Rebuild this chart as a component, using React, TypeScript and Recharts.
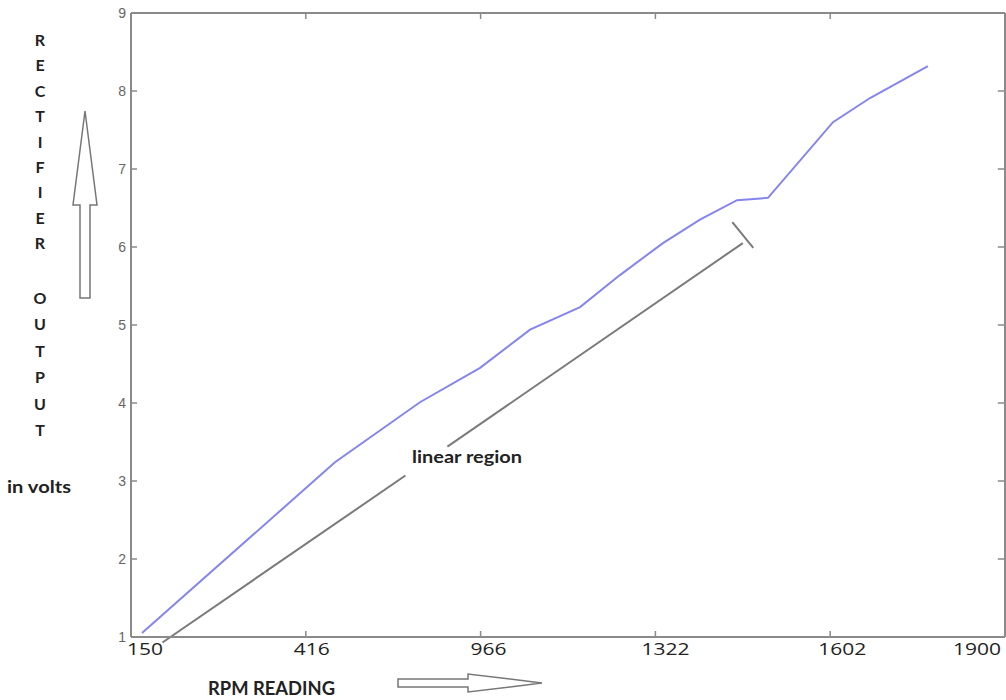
import React from 'react';
import { LineChart, Line, XAxis, YAxis, ReferenceLine } from 'recharts';

// x axis is evenly spaced tick positions, labelled with the RPM readings
const rpmTickLabels = ['150', '416', '966', '1322', '1602', '1900'];
const rpmTickPos = [0, 1, 2, 3, 4, 5];
const voltTicks = [1, 2, 3, 4, 5, 6, 7, 8, 9];

// measured rectifier output
const readingPos = [0.063, 1.167, 1.653, 1.997, 2.283, 2.569, 2.797, 3.043, 3.255, 3.467, 3.644, 4.016, 4.228, 4.559];
const rectifierVolts = [1.05, 3.24, 4.01, 4.45, 4.94, 5.23, 5.64, 6.05, 6.35, 6.6, 6.63, 7.6, 7.91, 8.32];

// "linear region" guide line (broken where the label sits) and its end bar
const linearX = [0.18, 1.57, 1.81, 3.5];
const linearY = [0.93, 3.07, 3.44, 6.05];
const endBarX = [3.44, 3.56];
const endBarY = [6.32, 5.99];

const yLetters1 = ['R', 'E', 'C', 'T', 'I', 'F', 'I', 'E', 'R'];
const yLetters2 = ['O', 'U', 'T', 'P', 'U', 'T'];

const chartData = readingPos.map((x, i) => ({ x, v: rectifierVolts[i] }));

const AXIS = '#8a8a8a';
const X_MIN = 0;
const X_MAX = 5;
const Y_MIN = 1;
const Y_MAX = 9;
// inward tick length, in data units (plot is ~875px x ~624px)
const TICK_DX = 6 / 175;
const TICK_DY = 6 / 78;

const RpmTick = (props: any) => {
  const { x, y, payload, index } = props;
  const label = rpmTickLabels[payload.value] ?? '';
  const last = rpmTickLabels.length - 1;
  let anchor: 'start' | 'middle' | 'end' = 'middle';
  let tx = x + 4 + 2 * index;
  if (index === 0) {
    anchor = 'start';
    tx = x - 4;
  } else if (index === last) {
    anchor = 'end';
    tx = x - 4;
  }
  return (
    <text
      x={tx}
      y={y}
      textAnchor={anchor}
      fontFamily="'Open Sans', sans-serif"
      fontSize={17}
      fill="#222"
      textLength={label.length * 12}
      lengthAdjust="spacingAndGlyphs"
    >
      {label}
    </text>
  );
};

export default function App() {
  return (
    <div style={{ position: 'absolute', left: 0, top: 0, width: 1006, height: 700, background: '#fff', fontFamily: 'Lato, sans-serif' }}>
      <LineChart width={1006} height={700} data={chartData} margin={{ top: 12, right: 0, bottom: 0, left: 0 }}>
        <XAxis
          xAxisId="b"
          type="number"
          dataKey="x"
          domain={[X_MIN, X_MAX]}
          ticks={rpmTickPos}
          height={63}
          tickSize={0}
          tickMargin={18}
          tick={<RpmTick />}
          interval={0}
          axisLine={{ stroke: AXIS, strokeWidth: 2 }}
          tickLine={false}
        />
        <XAxis
          xAxisId="t"
          orientation="top"
          type="number"
          dataKey="x"
          domain={[X_MIN, X_MAX]}
          ticks={rpmTickPos}
          height={1}
          tick={false}
          axisLine={{ stroke: AXIS, strokeWidth: 2 }}
          tickLine={false}
        />
        <YAxis
          yAxisId="l"
          type="number"
          domain={[Y_MIN, Y_MAX]}
          ticks={voltTicks}
          width={131}
          tickSize={0}
          tickMargin={5}
          interval={0}
          tick={{ fill: '#666', fontSize: 14, fontFamily: "'Liberation Sans', Arial, sans-serif" }}
          axisLine={{ stroke: AXIS, strokeWidth: 2 }}
          tickLine={false}
        />
        <YAxis
          yAxisId="r"
          orientation="right"
          type="number"
          domain={[Y_MIN, Y_MAX]}
          ticks={voltTicks}
          width={1}
          tick={false}
          axisLine={{ stroke: AXIS, strokeWidth: 2 }}
          tickLine={false}
        />

        {/* inward tick marks, MATLAB style */}
        {voltTicks.map((v) => (
          <ReferenceLine
            key={'tl' + v}
            xAxisId="b"
            yAxisId="l"
            segment={[{ x: X_MIN, y: v }, { x: X_MIN + TICK_DX, y: v }]}
            stroke={AXIS}
            strokeWidth={1.5}
            ifOverflow="visible"
          />
        ))}
        {voltTicks.map((v) => (
          <ReferenceLine
            key={'tr' + v}
            xAxisId="b"
            yAxisId="l"
            segment={[{ x: X_MAX - TICK_DX * 1.2, y: v }, { x: X_MAX, y: v }]}
            stroke={AXIS}
            strokeWidth={1.5}
            ifOverflow="visible"
          />
        ))}
        {rpmTickPos.map((p) => (
          <ReferenceLine
            key={'tb' + p}
            xAxisId="b"
            yAxisId="l"
            segment={[{ x: p, y: Y_MIN }, { x: p, y: Y_MIN + TICK_DY }]}
            stroke={AXIS}
            strokeWidth={1.5}
            ifOverflow="visible"
          />
        ))}
        {rpmTickPos.map((p) => (
          <ReferenceLine
            key={'tt' + p}
            xAxisId="b"
            yAxisId="l"
            segment={[{ x: p, y: Y_MAX - TICK_DY }, { x: p, y: Y_MAX }]}
            stroke={AXIS}
            strokeWidth={1.5}
            ifOverflow="visible"
          />
        ))}

        <ReferenceLine
          xAxisId="b"
          yAxisId="l"
          segment={[{ x: linearX[0], y: linearY[0] }, { x: linearX[1], y: linearY[1] }]}
          stroke="#7a7a7a"
          strokeWidth={2}
          ifOverflow="visible"
        />
        <ReferenceLine
          xAxisId="b"
          yAxisId="l"
          segment={[{ x: linearX[2], y: linearY[2] }, { x: linearX[3], y: linearY[3] }]}
          stroke="#7a7a7a"
          strokeWidth={2}
          ifOverflow="visible"
        />
        <ReferenceLine
          xAxisId="b"
          yAxisId="l"
          segment={[{ x: endBarX[0], y: endBarY[0] }, { x: endBarX[1], y: endBarY[1] }]}
          stroke="#7a7a7a"
          strokeWidth={2}
          ifOverflow="visible"
        />
        <Line
          xAxisId="b"
          yAxisId="l"
          type="linear"
          dataKey="v"
          stroke="#8585ee"
          strokeWidth={2}
          dot={false}
          isAnimationActive={false}
        />
      </LineChart>

      <svg width={1006} height={700} style={{ position: 'absolute', left: 0, top: 0, pointerEvents: 'none' }}>
        <g fontFamily="Lato, 'Open Sans', sans-serif" fontWeight="bold" fontSize={16} fill="#222" textAnchor="middle">
          {yLetters1.map((c, i) => (
            <text key={'a' + i} x={40} y={46 + i * 25.4}>{c}</text>
          ))}
          {yLetters2.map((c, i) => (
            <text key={'b' + i} x={40} y={304 + i * 26.4}>{c}</text>
          ))}
        </g>
        <text x={7} y={493} fontFamily="Lato, sans-serif" fontWeight="bold" fontSize={17} fill="#222" textLength={64} lengthAdjust="spacingAndGlyphs">
          in volts
        </text>
        <text x={208} y={695} fontFamily="Lato, sans-serif" fontWeight="bold" fontSize={19} fill="#222" textLength={127} lengthAdjust="spacingAndGlyphs">
          RPM READING
        </text>
        <text x={412} y={463} fontFamily="Lato, sans-serif" fontWeight="bold" fontSize={17} fill="#222" textLength={110} lengthAdjust="spacingAndGlyphs">
          linear region
        </text>
        <polygon
          points="85,111 97,205 90,205 90,298 80,298 80,205 73,205"
          fill="#fff"
          stroke="#777"
          strokeWidth={1.5}
        />
        <polygon
          points="398,679 468,679 468,674 542,683 468,692 468,687 398,687"
          fill="#fff"
          stroke="#777"
          strokeWidth={1.5}
        />
      </svg>
    </div>
  );
}
